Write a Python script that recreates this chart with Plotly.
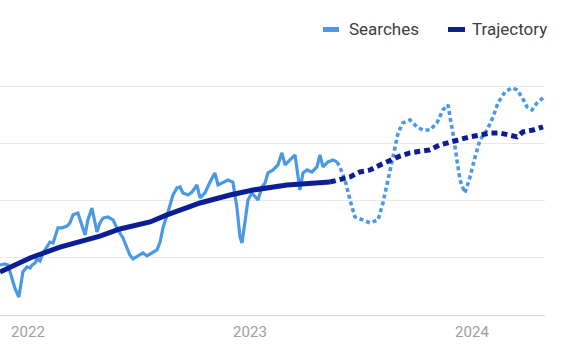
import plotly.graph_objects as go

# ---- data (x in decimal years, y in relative search interest) ----
search_x = [2021.874, 2021.896, 2021.910, 2021.928, 2021.941, 2021.959, 2021.977, 2021.995,
            2022.009, 2022.018, 2022.032, 2022.041, 2022.054, 2022.068, 2022.086, 2022.099,
            2022.113, 2022.131, 2022.135, 2022.153, 2022.176, 2022.189, 2022.203, 2022.225,
            2022.243, 2022.257, 2022.270, 2022.288, 2022.311, 2022.324, 2022.338, 2022.360,
            2022.383, 2022.405, 2022.428, 2022.446, 2022.459, 2022.473, 2022.495, 2022.518,
            2022.536, 2022.559, 2022.581, 2022.595, 2022.608, 2022.631, 2022.653, 2022.671,
            2022.685, 2022.698, 2022.721, 2022.739, 2022.761, 2022.775, 2022.797, 2022.820,
            2022.842, 2022.856, 2022.878, 2022.901, 2022.923, 2022.941, 2022.955, 2022.964,
            2022.977, 2022.991, 2023.009, 2023.023, 2023.036, 2023.054, 2023.068, 2023.081,
            2023.104, 2023.126, 2023.144, 2023.158, 2023.180, 2023.203, 2023.225, 2023.239,
            2023.257, 2023.279, 2023.302, 2023.315, 2023.329, 2023.351, 2023.374, 2023.392]
search_y = [21.9, 22.4, 21.9, 15.4, 11.8, 7.9, 18.9, 21.1,
            20.6, 21.9, 22.8, 24.6, 23.7, 27.2, 29.8, 32.0,
            31.6, 37.3, 38.2, 38.2, 39.0, 40.4, 43.9, 44.7,
            39.5, 35.1, 41.7, 46.9, 36.4, 40.4, 42.5, 43.0,
            41.7, 37.3, 33.8, 29.4, 26.3, 24.6, 25.9, 27.2,
            25.9, 27.2, 28.5, 32.0, 38.2, 45.2, 52.6, 55.7,
            56.1, 53.5, 52.6, 53.9, 57.0, 51.3, 53.5, 58.3,
            62.3, 57.0, 57.9, 59.2, 58.3, 47.4, 34.2, 31.6,
            40.4, 50.4, 53.5, 51.8, 50.4, 56.1, 57.9, 62.3,
            63.6, 65.8, 71.1, 65.8, 68.0, 70.2, 54.8, 62.3,
            63.6, 62.7, 64.9, 70.2, 64.9, 67.1, 68.0, 67.1]

forecast_x = [2023.392, 2023.405, 2023.428, 2023.441, 2023.459, 2023.473, 2023.505, 2023.541,
              2023.577, 2023.599, 2023.622, 2023.644, 2023.667, 2023.689, 2023.721, 2023.752,
              2023.779, 2023.811, 2023.842, 2023.869, 2023.892, 2023.914, 2023.932, 2023.946,
              2023.968, 2023.991, 2024.014, 2024.036, 2024.068, 2024.095, 2024.117, 2024.149,
              2024.180, 2024.203, 2024.225, 2024.248, 2024.270, 2024.293, 2024.320]
forecast_y = [67.1, 64.9, 59.2, 53.5, 47.4, 43.0, 41.7, 40.4,
              41.7, 49.1, 59.2, 69.3, 79.8, 84.2, 85.5, 82.5,
              81.1, 81.1, 84.2, 89.9, 92.1, 79.8, 68.0, 59.2,
              53.5, 60.5, 69.3, 76.8, 81.1, 86.8, 93.0, 97.8,
              99.6, 98.7, 95.6, 91.2, 89.9, 93.0, 95.2]

traj_x = [2021.874, 2022.009, 2022.144, 2022.324, 2022.414, 2022.550, 2022.626, 2022.775,
          2022.910, 2023.014, 2023.167, 2023.360]
traj_y = [18.9, 25.0, 29.8, 34.6, 37.7, 40.8, 43.9, 49.1,
          52.6, 54.8, 57.0, 58.3]

traj_fc_x = [2023.360, 2023.405, 2023.450, 2023.495, 2023.541, 2023.586, 2023.631, 2023.676,
             2023.721, 2023.766, 2023.811, 2023.856, 2023.901, 2023.946, 2023.991, 2024.036,
             2024.081, 2024.126, 2024.171, 2024.203, 2024.230, 2024.275, 2024.320]
traj_fc_y = [58.3, 59.2, 60.5, 62.7, 63.6, 65.8, 68.0, 69.7,
             71.1, 71.5, 72.4, 74.6, 75.9, 76.8, 78.1, 78.9,
             79.8, 79.8, 78.9, 78.1, 80.3, 81.1, 82.5]

tick_vals = [2022, 2023, 2024]
tick_text = ["2022", "2023", "2024"]
legend_names = ["Searches", "Trajectory"]

C_SEARCH = "#4a98e6"
C_TRAJ = "#0b1e96"

fig = go.Figure()
fig.add_trace(go.Scatter(x=search_x, y=search_y, mode="lines",
                         line=dict(color=C_SEARCH, width=3.2), showlegend=False))
fig.add_trace(go.Scatter(x=forecast_x, y=forecast_y, mode="lines",
                         line=dict(color=C_SEARCH, width=3.6, dash="4px,3px"), showlegend=False))
fig.add_trace(go.Scatter(x=traj_x, y=traj_y, mode="lines",
                         line=dict(color=C_TRAJ, width=5), showlegend=False))
fig.add_trace(go.Scatter(x=traj_fc_x, y=traj_fc_y, mode="lines",
                         line=dict(color=C_TRAJ, width=5, dash="6px,4px"), showlegend=False))

# plot area geometry (px): x 0..545, y 60..315
W, H = 576, 356
L, R, T, B = 0, 31, 60, 41
pw, ph = W - L - R, H - T - B

def px_x(px):
    return (px - L) / pw

def px_y(py):
    return (H - B - py) / ph

# custom legend
legend_items = [(323, 339, 347, legend_names[0], C_SEARCH),
                (448, 465, 470, legend_names[1], C_TRAJ)]
shapes = []
annotations = []
for x0, x1, tx, name, col in legend_items:
    shapes.append(dict(type="rect", xref="paper", yref="paper",
                       x0=px_x(x0), x1=px_x(x1), y0=px_y(32), y1=px_y(27),
                       fillcolor=col, line=dict(width=0)))
    annotations.append(dict(text=name, xref="paper", yref="paper",
                            x=px_x(tx), y=px_y(29.5), xanchor="left", yanchor="middle",
                            showarrow=False,
                            font=dict(family="Roboto", size=17, color="#3c4043")))

fig.update_layout(
    width=W, height=H,
    margin=dict(l=L, r=R, t=T, b=B),
    paper_bgcolor="white", plot_bgcolor="white",
    shapes=shapes, annotations=annotations,
    xaxis=dict(range=[2021.874, 2024.329], tickvals=tick_vals, ticktext=tick_text,
               showgrid=False, zeroline=False, showline=True, linecolor="#d6d6d6",
               linewidth=1, ticks="outside", ticklen=3, tickcolor="rgba(0,0,0,0)",
               tickfont=dict(family="Roboto", size=15, color="#9e9e9e")),
    yaxis=dict(range=[0, 111.8], dtick=25, tick0=0, showticklabels=False,
               showgrid=True, gridcolor="#e8e8e8", gridwidth=1, zeroline=False),
    showlegend=False,
)

fig.write_html("out.html", config={"displayModeBar": False},
               post_script="document.body.style.margin='0';document.body.style.padding='0';")
